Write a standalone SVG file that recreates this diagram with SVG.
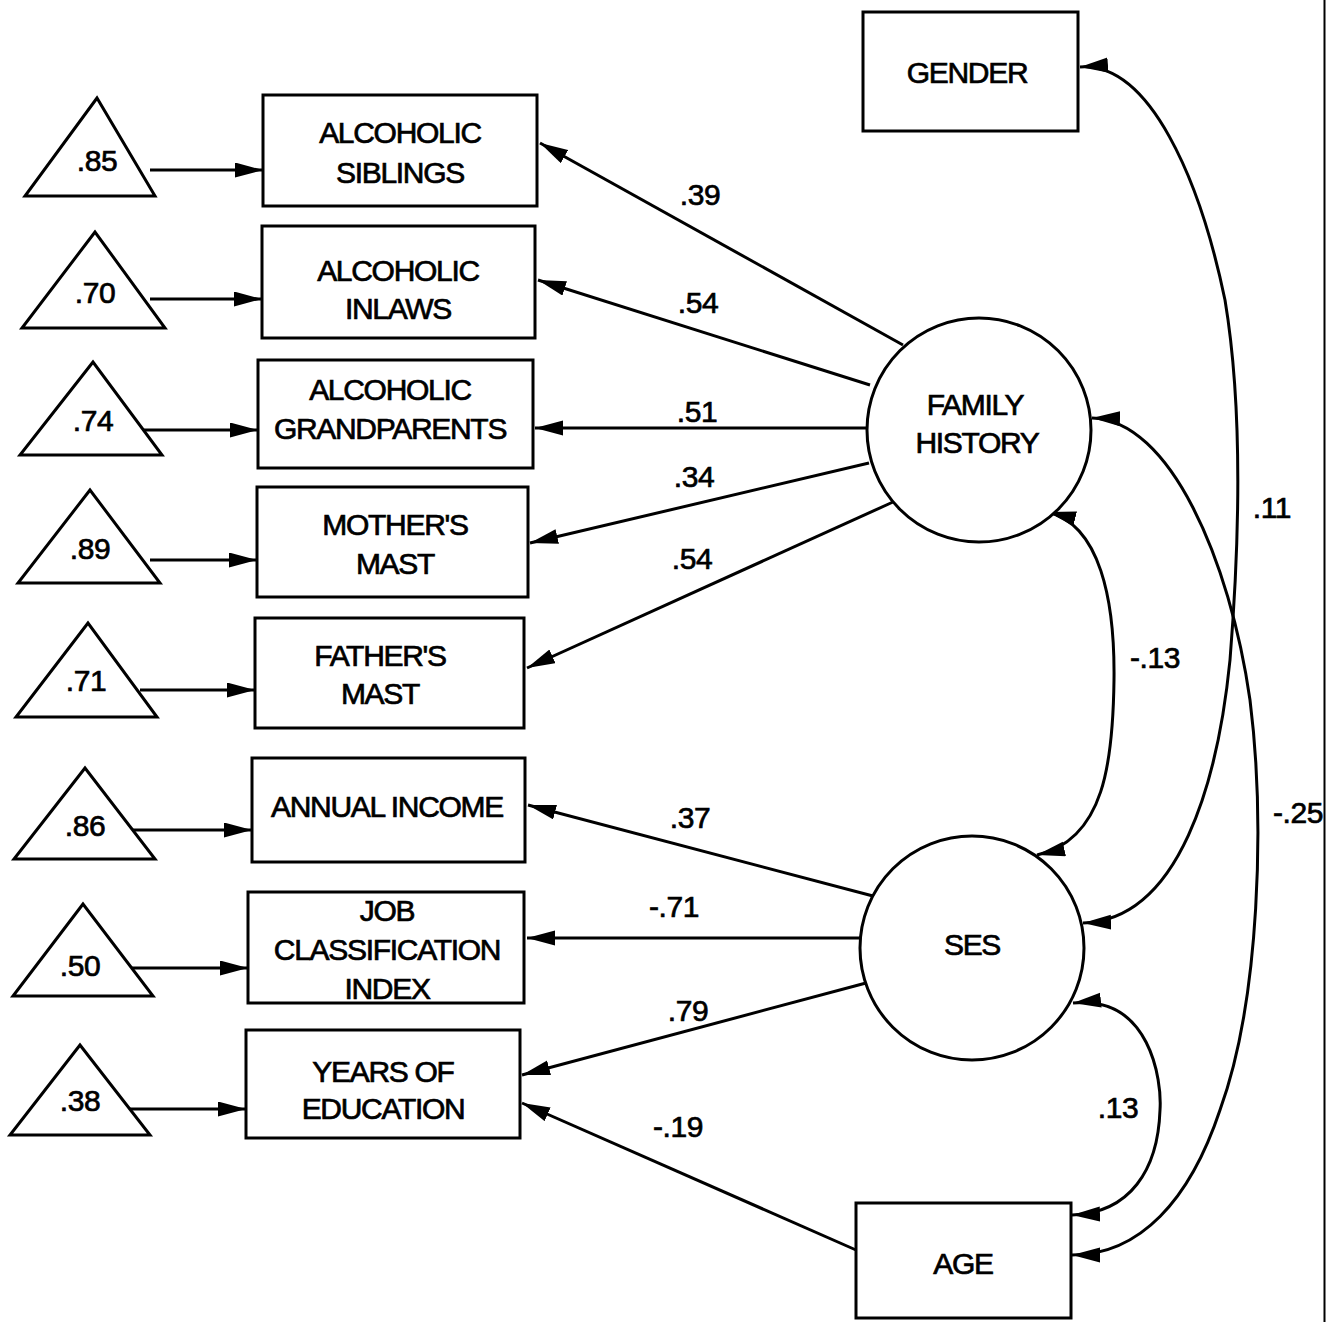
<svg xmlns="http://www.w3.org/2000/svg" width="1326" height="1322" viewBox="0 0 1326 1322">
  <style>
    .shape { fill: #fff; stroke: #000; stroke-width: 3; }
    .edge { fill: none; stroke: #000; stroke-width: 3; }
    text { font-family: "Liberation Sans", Arial, sans-serif; font-size: 30px; fill: #000; stroke: #000; stroke-width: 0.7; text-anchor: middle; letter-spacing: -1.3px; }
    text.num { letter-spacing: -0.4px; }
  </style>
  <defs>
    <marker id="arrow" markerUnits="userSpaceOnUse" markerWidth="30" markerHeight="16" refX="28" refY="7.5" orient="auto-start-reverse">
      <path d="M0,0 L28,7.5 L0,15 z" fill="#000"/>
    </marker>
  </defs>
  <rect width="1326" height="1322" fill="#fff"/>
  <line x1="1324.5" y1="0" x2="1324.5" y2="1322" stroke="#000" stroke-width="2"/>

  <g id="connectors">
    <!-- error terms into indicators -->
    <line class="edge" x1="150" y1="170" x2="263" y2="170" marker-end="url(#arrow)"/>
    <line class="edge" x1="150" y1="299" x2="262" y2="299" marker-end="url(#arrow)"/>
    <line class="edge" x1="140" y1="430" x2="258" y2="430" marker-end="url(#arrow)"/>
    <line class="edge" x1="150" y1="560" x2="257" y2="560" marker-end="url(#arrow)"/>
    <line class="edge" x1="140" y1="690" x2="255" y2="690" marker-end="url(#arrow)"/>
    <line class="edge" x1="130" y1="830" x2="252" y2="830" marker-end="url(#arrow)"/>
    <line class="edge" x1="130" y1="968" x2="248" y2="968" marker-end="url(#arrow)"/>
    <line class="edge" x1="125" y1="1109" x2="246" y2="1109" marker-end="url(#arrow)"/>
    <!-- family history loadings -->
    <line class="edge" x1="903" y1="345" x2="540" y2="143" marker-end="url(#arrow)"/>
    <line class="edge" x1="870" y1="385" x2="538" y2="280" marker-end="url(#arrow)"/>
    <line class="edge" x1="866" y1="428" x2="535" y2="428" marker-end="url(#arrow)"/>
    <line class="edge" x1="869" y1="463" x2="530" y2="543" marker-end="url(#arrow)"/>
    <line class="edge" x1="893" y1="502" x2="527" y2="668" marker-end="url(#arrow)"/>
    <!-- SES loadings -->
    <line class="edge" x1="873" y1="896" x2="528" y2="805" marker-end="url(#arrow)"/>
    <line class="edge" x1="861" y1="938" x2="527" y2="938" marker-end="url(#arrow)"/>
    <line class="edge" x1="866" y1="983" x2="522" y2="1075" marker-end="url(#arrow)"/>
    <line class="edge" x1="856" y1="1250" x2="522" y2="1103" marker-end="url(#arrow)"/>
    <!-- correlations -->
    <path class="edge" d="M1080,67 C1150,62 1200,180 1225,300 C1245,420 1238,560 1230,660 C1218,780 1180,920 1083,923" marker-start="url(#arrow)" marker-end="url(#arrow)"/>
    <path class="edge" d="M1092,418 C1170,420 1230,560 1250,700 C1265,820 1260,1000 1220,1110 C1190,1200 1140,1255 1072,1255" marker-start="url(#arrow)" marker-end="url(#arrow)"/>
    <path class="edge" d="M1048,512 C1100,525 1115,600 1114,680 C1113,760 1105,840 1037,855" marker-start="url(#arrow)" marker-end="url(#arrow)"/>
    <path class="edge" d="M1073,1003 C1150,995 1162,1080 1160,1110 C1158,1170 1130,1213 1072,1215" marker-start="url(#arrow)" marker-end="url(#arrow)"/>
    <!-- coefficients -->
    <text class="num" x="700" y="205">.39</text>
    <text class="num" x="698" y="313">.54</text>
    <text class="num" x="697" y="422">.51</text>
    <text class="num" x="694" y="487">.34</text>
    <text class="num" x="692" y="569">.54</text>
    <text class="num" x="690" y="828">.37</text>
    <text class="num" x="674" y="917">-.71</text>
    <text class="num" x="688" y="1021">.79</text>
    <text class="num" x="678" y="1137">-.19</text>
    <text class="num" x="1155" y="668">-.13</text>
    <text class="num" x="1272" y="518">.11</text>
    <text class="num" x="1298" y="823">-.25</text>
    <text class="num" x="1118" y="1118">.13</text>
  </g>

  <!-- error terms -->
  <g id="e1"><polygon class="shape" points="97,98 25,196 155,196"/><text class="num" x="97" y="171">.85</text></g>
  <g id="e2"><polygon class="shape" points="95,232 22,328 165,328"/><text class="num" x="95" y="303">.70</text></g>
  <g id="e3"><polygon class="shape" points="93,362 20,455 162,455"/><text class="num" x="93" y="431">.74</text></g>
  <g id="e4"><polygon class="shape" points="90,490 18,583 160,583"/><text class="num" x="90" y="559">.89</text></g>
  <g id="e5"><polygon class="shape" points="88,623 16,717 157,717"/><text class="num" x="86" y="691">.71</text></g>
  <g id="e6"><polygon class="shape" points="85,768 14,859 155,859"/><text class="num" x="85" y="836">.86</text></g>
  <g id="e7"><polygon class="shape" points="83,904 13,996 153,996"/><text class="num" x="80" y="976">.50</text></g>
  <g id="e8"><polygon class="shape" points="80,1045 10,1135 150,1135"/><text class="num" x="80" y="1111">.38</text></g>

  <!-- observed indicators -->
  <g id="alcoholic-siblings"><rect class="shape" x="263" y="95" width="274" height="111"/><text x="400" y="143">ALCOHOLIC</text><text x="400" y="183">SIBLINGS</text></g>
  <g id="alcoholic-inlaws"><rect class="shape" x="262" y="226" width="273" height="112"/><text x="398" y="281">ALCOHOLIC</text><text x="398" y="319">INLAWS</text></g>
  <g id="alcoholic-grandparents"><rect class="shape" x="258" y="360" width="275" height="108"/><text x="390" y="400">ALCOHOLIC</text><text x="390" y="439">GRANDPARENTS</text></g>
  <g id="mothers-mast"><rect class="shape" x="257" y="487" width="271" height="110"/><text x="395" y="535">MOTHER'S</text><text x="395" y="574">MAST</text></g>
  <g id="fathers-mast"><rect class="shape" x="255" y="618" width="269" height="110"/><text x="380" y="666">FATHER'S</text><text x="380" y="704">MAST</text></g>
  <g id="annual-income"><rect class="shape" x="252" y="758" width="273" height="104"/><text x="387" y="817">ANNUAL INCOME</text></g>
  <g id="job-classification"><rect class="shape" x="248" y="892" width="276" height="111"/><text x="387" y="921">JOB</text><text x="387" y="960">CLASSIFICATION</text><text x="387" y="999">INDEX</text></g>
  <g id="years-of-education"><rect class="shape" x="246" y="1030" width="274" height="108"/><text x="383" y="1082">YEARS OF</text><text x="383" y="1119">EDUCATION</text></g>

  <!-- covariates -->
  <g id="gender"><rect class="shape" x="863" y="12" width="215" height="119"/><text x="967" y="83">GENDER</text></g>
  <g id="age"><rect class="shape" x="856" y="1203" width="215" height="115"/><text x="963" y="1274">AGE</text></g>

  <!-- latent factors -->
  <g id="family-history"><circle class="shape" cx="979" cy="430" r="112"/><text x="975" y="415">FAMILY</text><text x="977" y="453">HISTORY</text></g>
  <g id="ses"><circle class="shape" cx="972" cy="948" r="112"/><text x="972" y="955">SES</text></g>
</svg>
